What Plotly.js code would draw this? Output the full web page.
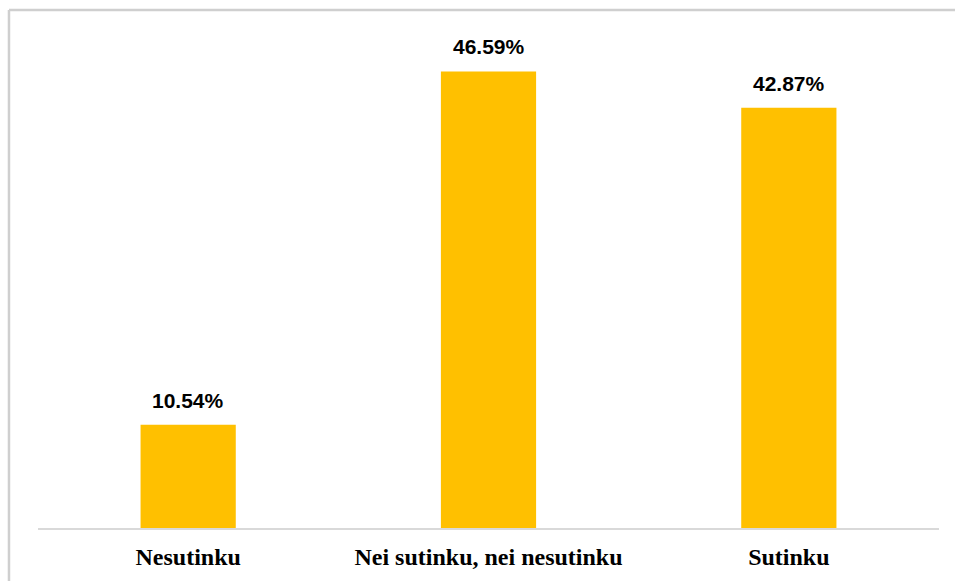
<!DOCTYPE html>
<html>
<head>
<meta charset="utf-8">
<script src="https://cdn.plot.ly/plotly-3.0.1.min.js"></script>
<style>
  html, body { margin: 0; padding: 0; background: #ffffff; }
  #chart { width: 955px; height: 581px; }
</style>
</head>
<body>
<div id="chart"></div>
<script>
const categories = ["Nesutinku", "Nei sutinku, nei nesutinku", "Sutinku"];
const values = [10.54, 46.59, 42.87];
const valueLabels = ["10.54%", "46.59%", "42.87%"];

const trace = {
  type: "bar",
  x: categories,
  y: values,
  marker: { color: "#FFC000" },
  hoverinfo: "skip"
};

const annotations = categories.map((c, i) => ({
  x: c,
  y: values[i],
  xref: "x",
  yref: "y",
  text: valueLabels[i],
  showarrow: false,
  yanchor: "bottom",
  yshift: 11,
  font: { family: "Liberation Sans, Arial, sans-serif", size: 21, color: "#000000", weight: "bold" }
}));

const borderStyle = { color: "#cfcfcf", width: 2.5 };

const layout = {
  width: 955,
  height: 581,
  margin: { l: 38, r: 16, t: 38, b: 53, pad: 0 },
  paper_bgcolor: "#ffffff",
  plot_bgcolor: "#ffffff",
  bargap: 0.683,
  showlegend: false,
  xaxis: {
    type: "category",
    showline: true,
    linecolor: "#d9d9d9",
    linewidth: 2,
    ticks: "",
    showgrid: false,
    zeroline: false,
    ticklabelstandoff: 6,
    tickfont: { family: "Liberation Serif, Times New Roman, serif", size: 24, color: "#000000", weight: "bold" }
  },
  yaxis: {
    range: [0, 50],
    visible: false,
    showgrid: false,
    zeroline: false
  },
  annotations: annotations,
  shapes: [
    { type: "line", xref: "paper", yref: "paper", x0: -0.0322, x1: 1.03, y0: 1.057, y1: 1.057, line: borderStyle, layer: "above" },
    { type: "line", xref: "paper", yref: "paper", x0: -0.0322, x1: -0.0322, y0: 1.057, y1: -0.12, line: borderStyle, layer: "above" }
  ]
};

Plotly.newPlot("chart", [trace], layout, { displayModeBar: false, staticPlot: true });
</script>
</body>
</html>
